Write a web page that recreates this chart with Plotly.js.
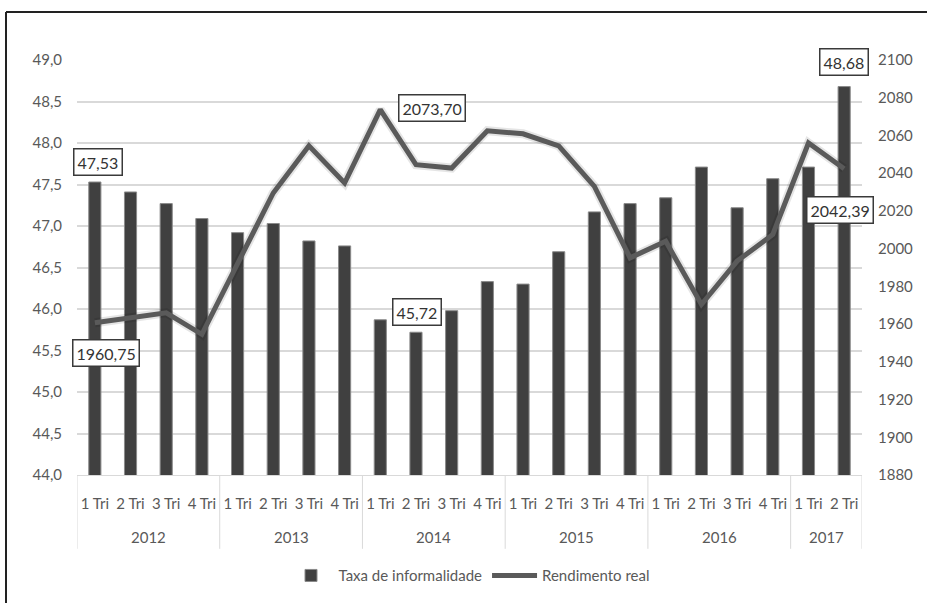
<!DOCTYPE html>
<html>
<head>
<meta charset="utf-8">
<script src="https://cdn.plot.ly/plotly-3.0.1.min.js"></script>
<style>
  html, body { margin: 0; padding: 0; background: #fff; }
  #chart { width: 927px; height: 603px; }
</style>
</head>
<body>
<div id="chart"></div>
<script>
const years = ["2012","2012","2012","2012","2013","2013","2013","2013","2014","2014","2014","2014",
               "2015","2015","2015","2015","2016","2016","2016","2016","2017","2017"];
const quarters = ["1 Tri","2 Tri","3 Tri","4 Tri","1 Tri","2 Tri","3 Tri","4 Tri","1 Tri","2 Tri","3 Tri","4 Tri",
                  "1 Tri","2 Tri","3 Tri","4 Tri","1 Tri","2 Tri","3 Tri","4 Tri","1 Tri","2 Tri"];
const informalidade = [47.53, 47.41, 47.27, 47.09, 46.92, 47.03, 46.82, 46.76, 45.87, 45.72, 45.98, 46.33,
                       46.30, 46.69, 47.17, 47.27, 47.34, 47.71, 47.22, 47.57, 47.71, 48.68];
const rendimento = [1960.75, 1963.4, 1966.0, 1954.6, 1992.5, 2029.5, 2054.5, 2034.8, 2073.70, 2044.5, 2042.7, 2062.5,
                    2060.9, 2054.5, 2033.0, 1995.1, 2003.9, 1970.4, 1993.4, 2007.5, 2056.0, 2042.39];
const leftTicks = [44, 44.5, 45, 45.5, 46, 46.5, 47, 47.5, 48, 48.5, 49];
const rightTicks = [1880, 1900, 1920, 1940, 1960, 1980, 2000, 2020, 2040, 2060, 2080, 2100];

const fmt = v => v.toFixed(2).replace('.', ',');
const idx = quarters.map((_, i) => i);

// year groups derived from the data
const groups = [];
years.forEach((y, i) => {
  const g = groups[groups.length - 1];
  if (g && g.year === y) g.end = i; else groups.push({ year: y, start: i, end: i });
});

const txtColor = '#595959';
const fontFam = 'Lato, "Open Sans", "Liberation Sans", sans-serif';

const traces = [
  {
    type: 'bar', name: 'Taxa de informalidade',
    x: idx, y: informalidade, yaxis: 'y',
    width: 0.34,
    marker: { color: '#404040', line: { color: '#8a8a8a', width: 1 } },
    hoverinfo: 'y'
  },
  {
    type: 'scatter', mode: 'lines', name: 'shadow', showlegend: false,
    x: idx, y: rendimento, yaxis: 'y2',
    line: { color: 'rgba(0,0,0,0.10)', width: 9 },
    hoverinfo: 'skip'
  },
  {
    type: 'scatter', mode: 'lines', name: 'Rendimento real',
    x: idx, y: rendimento, yaxis: 'y2',
    line: { color: '#5a5a5a', width: 5 },
    hoverinfo: 'y'
  }
];

function box(x, y, yref, text, xshift, yshift) {
  return { x: x, y: y, xref: 'x', yref: yref, text: text, showarrow: false,
    xshift: xshift, yshift: yshift,
    bgcolor: '#ffffff', bordercolor: '#3a3a3a', borderwidth: 1.5, borderpad: 3,
    font: { family: fontFam, size: 16, color: '#333333' } };
}

const annotations = [
  box(0, informalidade[0], 'y', fmt(informalidade[0]), 3, 20),
  box(0, rendimento[0], 'y2', fmt(rendimento[0]), 11, -30),
  box(8, rendimento[8], 'y2', fmt(rendimento[8]), 52, 2),
  box(9, informalidade[9], 'y', fmt(informalidade[9]), 1, 20),
  box(21, informalidade[21], 'y', fmt(informalidade[21]), 0, 25),
  box(21, rendimento[21], 'y2', fmt(rendimento[21]), -4, -41)
];
groups.forEach(g => {
  annotations.push({ x: (g.start + g.end) / 2, y: 0, xref: 'x', yref: 'paper', yanchor: 'middle',
    yshift: -62, text: g.year, showarrow: false,
    font: { family: fontFam, size: 15, color: txtColor } });
});

const divY = -(550 - 476) / 416;
const shapes = [
  { type: 'line', xref: 'paper', yref: 'paper', x0: -71/785, x1: 1.2, y0: 1 + 48/416, y1: 1 + 48/416,
    line: { color: '#222222', width: 2 } },
  { type: 'line', xref: 'paper', yref: 'paper', x0: -71/785, x1: -71/785, y0: 1 + 48/416, y1: -0.5,
    line: { color: '#222222', width: 2 } }
];
const bounds = [groups[0].start - 0.5].concat(groups.map(g => g.end + 0.5));
bounds.forEach(b => shapes.push({ type: 'line', xref: 'x', yref: 'paper', x0: b, x1: b, y0: 0, y1: divY,
  line: { color: '#d9d9d9', width: 1 } }));

const layout = {
  width: 927, height: 603,
  margin: { l: 77, r: 65, t: 60, b: 127 },
  paper_bgcolor: '#ffffff', plot_bgcolor: '#ffffff',
  separators: ', ',
  font: { family: fontFam, size: 15, color: txtColor },
  showlegend: true,
  legend: { orientation: 'h', x: 0.5, xanchor: 'center', y: -0.2, yanchor: 'top',
            itemwidth: 45,
            font: { family: fontFam, size: 15, color: txtColor }, traceorder: 'normal' },
  xaxis: {
    type: 'linear', range: [-0.5, quarters.length - 0.5], automargin: false,
    tickmode: 'array', tickvals: idx, ticktext: quarters,
    tickangle: 0, ticklabelstandoff: 15,
    showgrid: false, zeroline: false,
    showline: true, linecolor: '#d9d9d9', linewidth: 1,
    ticks: '', tickfont: { family: fontFam, size: 15, color: txtColor }
  },
  yaxis: {
    range: [44, 49], tickvals: leftTicks, tickformat: '.1f', automargin: false,
    showgrid: true, gridcolor: '#d9d9d9', gridwidth: 1.5,
    zeroline: false, showline: false, ticks: '', ticklabelstandoff: 14,
    tickfont: { family: fontFam, size: 15, color: txtColor }
  },
  yaxis2: {
    range: [1880, 2100], tickvals: rightTicks, tickformat: 'd', automargin: false,
    overlaying: 'y', side: 'right',
    showgrid: false, zeroline: false, showline: false, ticks: '', ticklabelstandoff: 15,
    tickfont: { family: fontFam, size: 15, color: txtColor }
  },
  annotations: annotations,
  shapes: shapes
};

Plotly.newPlot('chart', traces, layout, { displayModeBar: false, responsive: false });
</script>
</body>
</html>
